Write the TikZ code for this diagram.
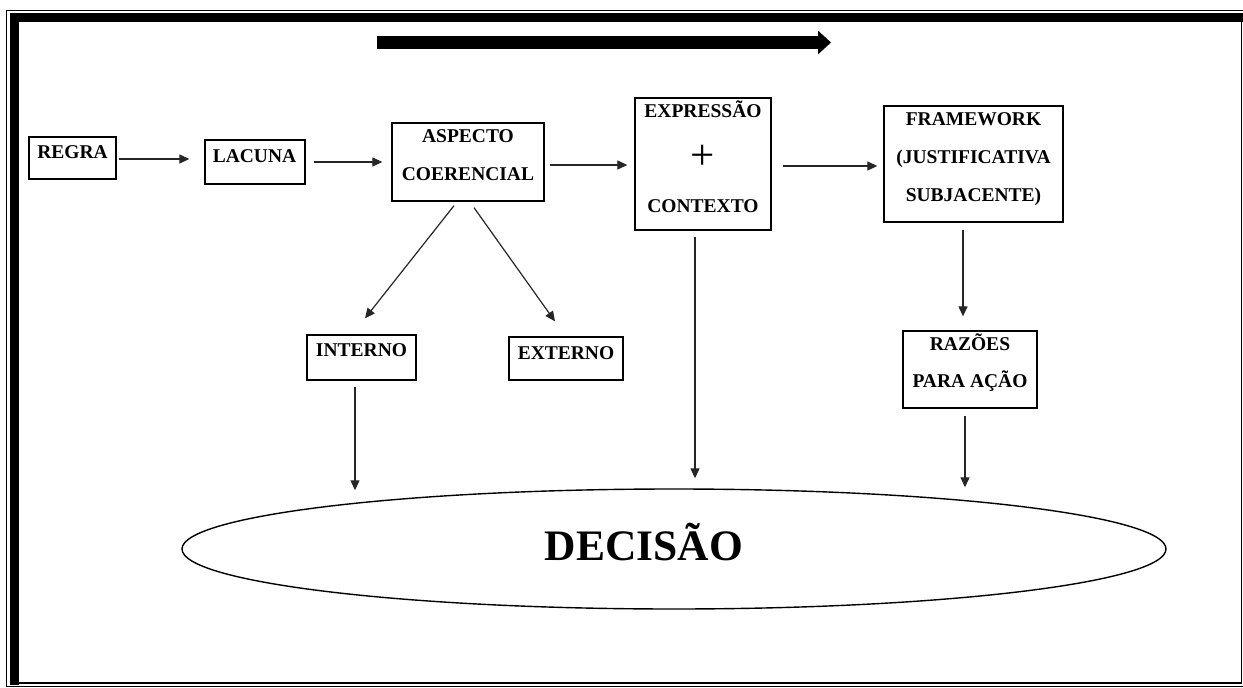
\documentclass[tikz,border=0pt]{standalone}
\usepackage{fontspec}
\setmainfont{Liberation Serif}
\usetikzlibrary{arrows.meta,shapes.geometric}

\tikzset{
  box/.style={draw, line width=1.3pt, rectangle, inner sep=0pt},
  lbl/.style={anchor=base, inner sep=0pt, font=\bfseries\fontsize{19.5}{23}\selectfont},
  conn/.style={line width=1.2pt, draw=black!85, -{Triangle[length=10pt,width=9pt]}},
  frameline/.style={line width=1.3pt},
}

\begin{document}
\begin{tikzpicture}[x=1pt,y=-1pt]
  \useasboundingbox (0,0) rectangle (1243,688);

  % page border: thin outer rule, heavy inner rule on top and left
  \draw[frameline] (1243,10.5) -- (6.5,10.5) -- (6.5,686.5) -- (1243,686.5);
  \fill (10,13) rectangle (1243,22);
  \fill (10,13) rectangle (19,684.5);
  \draw[line width=2pt] (10,683.3) -- (1242.4,683.3);
  \draw[line width=1.5pt] (1241.7,13) -- (1241.7,684.3);

  % process direction arrow
  \coordinate (flowL) at (377,42.5);
  \coordinate (flowR) at (831,42.5);
  \draw[line width=13pt, -{Triangle[length=13pt,width=23pt]}] (flowL) -- (flowR);

  % boxes
  \node[box, minimum width=87pt,  minimum height=42pt]  (regra)   at (72.5,158)  {};
  \node[box, minimum width=100pt, minimum height=44pt]  (lacuna)  at (255,162)   {};
  \node[box, minimum width=152pt, minimum height=78pt]  (aspecto) at (468,162)   {};
  \node[box, minimum width=136pt, minimum height=132pt] (expr)    at (703,164)   {};
  \node[box, minimum width=179pt, minimum height=116pt] (frame)   at (973.5,164) {};
  \node[box, minimum width=134pt, minimum height=77pt]  (razoes)  at (970,369.5) {};
  \node[box, minimum width=109pt, minimum height=45pt]  (interno) at (361.5,357.5) {};
  \node[box, minimum width=114pt, minimum height=43pt]  (externo) at (566,358.5) {};
  \node[draw, ellipse, line width=1.4pt, inner sep=0pt,
        minimum width=984pt, minimum height=120pt] (decisao) at (674,549) {};

  % box texts
  \node[lbl] (regra-t)    at (72.5,158.4)  {REGRA};
  \node[lbl] (lacuna-t)   at (254.5,162.5) {LACUNA};
  \node[lbl] (aspecto-t1) at (468,142.6)   {ASPECTO};
  \node[lbl] (aspecto-t2) at (468,180.4)   {COERENCIAL};
  \node[lbl] (expr-t1)    at (703,117.4)   {EXPRESSÃO};
  \node[anchor=center, inner sep=0pt, font=\fontsize{43}{45}\selectfont] (expr-plus) at (703,157) {+};
  \node[lbl] (expr-t2)    at (703,212)     {CONTEXTO};
  \node[lbl] (frame-t1)   at (973.5,125)   {FRAMEWORK};
  \node[lbl] (frame-t2)   at (973.5,163.3) {(JUSTIFICATIVA};
  \node[lbl] (frame-t3)   at (973.5,201)   {SUBJACENTE)};
  \node[lbl] (razoes-t1)  at (970,350)     {RAZÕES};
  \node[lbl] (razoes-t2)  at (970,387.3)   {PARA AÇÃO};
  \node[lbl] (interno-t)  at (361.5,356.7) {INTERNO};
  \node[lbl] (externo-t)  at (566,359.3)   {EXTERNO};
  \node[anchor=base, inner sep=0pt, font=\bfseries\fontsize{43.5}{46}\selectfont] (decisao-t) at (644,560) {DECISÃO};

  % main chain
  \draw[conn, shorten <=2pt,  shorten >=15pt] ([yshift=-1pt]regra.east)   -- ([yshift=-1pt]regra.east -| lacuna.west);
  \draw[conn, shorten <=8pt,  shorten >=9pt]  (lacuna.east)                -- (lacuna.east -| aspecto.west);
  \draw[conn, shorten <=5pt,  shorten >=7pt]  ([yshift=-3pt]aspecto.east)  -- ([yshift=-3pt]aspecto.east -| expr.west);
  \draw[conn, shorten <=11pt, shorten >=6pt]  ([yshift=-2pt]expr.east)     -- ([yshift=-2pt]expr.east -| frame.west);

  % coherence aspect split
  \draw[conn] ([xshift=-14pt,yshift=-4pt]aspecto.south) -- ([xshift=3.5pt,yshift=16pt]interno.north);
  \draw[conn] ([xshift=6pt,yshift=-6pt]aspecto.south)   -- ([xshift=-11pt,yshift=15pt]externo.north);

  % framework to reasons
  \draw[conn] ([xshift=-10.5pt,yshift=-7pt]frame.south) -- ([xshift=-7pt,yshift=14pt]razoes.north);

  % everything converges on the decision
  \draw[conn] ([xshift=-6.5pt,yshift=-6pt]interno.south) -- ([xshift=-6.5pt,yshift=-2pt]interno.south |- decisao.north);
  \draw[conn] ([xshift=-8pt,yshift=-6pt]expr.south)      -- ([xshift=-8pt,yshift=10pt]expr.south |- decisao.north);
  \draw[conn] ([xshift=-5pt,yshift=-7pt]razoes.south)    -- ([xshift=-5pt,yshift=1pt]razoes.south |- decisao.north);
\end{tikzpicture}
\end{document}
